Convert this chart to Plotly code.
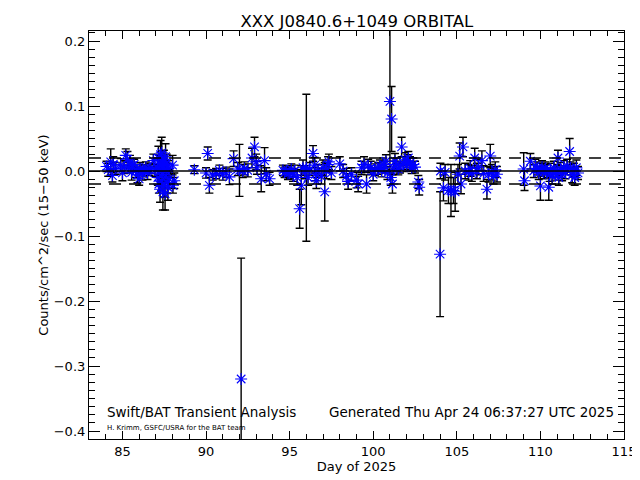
import plotly.graph_objects as go

# ---- data ----
days = [
    84.05, 84.15, 84.3, 84.4, 84.45, 84.6, 84.9, 85.0, 85.1, 85.2, 85.3, 85.35, 85.45, 85.55, 85.6,
    85.7, 85.8, 85.9, 86.0, 86.05, 86.1, 86.2, 86.3, 86.4, 86.5, 86.6, 86.7, 86.85, 86.95,
    87.1, 87.12, 87.15, 87.18, 87.2, 87.22, 87.25, 87.28, 87.3, 87.32, 87.35, 87.38, 87.4, 87.42,
    87.45, 87.48, 87.5, 87.52, 87.55, 87.58, 87.6, 87.62, 87.65, 87.68, 87.7, 87.72, 87.75, 87.78,
    88.0, 88.02, 88.1, 89.3,
    90.0, 90.1, 90.2, 90.4, 90.6, 90.8, 91.0, 91.2, 91.4, 91.65, 91.9, 92.0, 92.1, 92.2, 92.3, 92.5,
    92.75, 92.9, 93.0, 93.05, 93.3, 93.5, 93.6, 93.8,
    94.6, 94.7, 94.8, 94.9, 95.0, 95.1, 95.2, 95.3, 95.45, 95.6, 95.7, 95.8, 95.9, 96.0, 96.1, 96.2,
    96.4, 96.5, 96.55, 96.6, 96.7, 96.9, 97.0, 97.1, 97.2, 97.3, 97.35, 97.5,
    98.0, 98.2, 98.4, 98.5, 98.7, 99.0, 99.1, 99.3, 99.45, 99.6, 99.7, 99.85, 100.0, 100.1, 100.3,
    100.4, 100.5, 100.6, 100.7, 100.76, 100.85, 101.0, 101.05, 101.1, 101.15, 101.2, 101.3, 101.4,
    101.5, 101.6, 101.7, 101.8, 101.9, 102.0, 102.05, 102.1, 102.2, 102.3, 102.4, 102.5, 102.7, 102.75,
    104.0, 104.02, 104.2, 104.3, 104.5, 104.65, 104.8, 104.9, 105.07, 105.17, 105.25, 105.37, 105.5,
    105.7, 105.8, 105.9, 106.07, 106.2, 106.3, 106.5, 106.6, 106.8, 106.9, 107.0, 107.1, 107.2, 107.3, 107.4,
    109.0, 109.05, 109.4, 109.6, 109.7, 109.8, 109.9, 110.0, 110.05, 110.1, 110.2, 110.3, 110.4, 110.5,
    110.55, 110.6, 110.7, 110.8, 110.9, 111.0, 111.05, 111.1, 111.2, 111.3, 111.4, 111.5, 111.6, 111.75,
    111.8, 111.9, 112.0, 112.05, 112.15, 112.25,
]
rates = [
    0.007, 0.002, 0.014, -0.007, 0.010, 0.004, 0.009, -0.003, 0.006, 0.024, 0.018, 0.005, 0.014, -0.002, 0.008,
    0.010, 0.000, -0.006, -0.012, 0.004, 0.002, -0.004, 0.000, 0.006, -0.003, 0.002, 0.004, 0.016, 0.001,
    0.005, -0.010, 0.020, -0.020, 0.012, 0.000, -0.028, 0.025, 0.008, -0.015, 0.028, -0.005, 0.015, -0.032,
    0.003, 0.018, -0.022, 0.010, -0.035, 0.022, -0.008, 0.000, 0.012, -0.018, 0.006, -0.025, 0.004, -0.012,
    0.009, -0.022, -0.015, 0.002,
    -0.003, 0.027, -0.022, -0.006, -0.004, 0.001, -0.005, -0.002, -0.009, 0.019, 0.003, 0.001, -0.320, 0.000, 0.004, 0.001,
    0.020, 0.037, 0.014, 0.005, -0.012, 0.016, -0.005, -0.012,
    0.001, -0.002, 0.000, -0.004, -0.002, 0.003, -0.006, 0.000, -0.010, -0.058, -0.022, 0.005, -0.002, 0.005, -0.010, 0.003,
    0.027, 0.009, -0.005, -0.015, 0.000, -0.008, 0.005, -0.032, 0.000, 0.010, 0.014, -0.003,
    0.011, 0.000, -0.008, -0.016, -0.005, -0.014, -0.020, 0.005, 0.010, -0.020, 0.008, 0.005, -0.005, 0.002, 0.004,
    0.008, 0.000, 0.010, 0.006, 0.015, -0.003, 0.107, -0.010, 0.080, -0.020, 0.005, 0.015, 0.010,
    0.003, 0.006, 0.037, 0.012, 0.018, 0.008, 0.015, 0.020, 0.012, 0.005, 0.010, 0.006, -0.017, -0.025,
    -0.128, 0.000, -0.026, -0.002, -0.030, -0.030, -0.030, -0.032, -0.005, 0.023, -0.020, 0.037, 0.000,
    -0.002, 0.004, -0.004, 0.020, 0.000, 0.006, 0.016, -0.004, -0.028, -0.005, 0.023, -0.002, -0.008, 0.002, -0.005,
    0.003, -0.015, 0.015, 0.000, 0.008, 0.004, -0.003, -0.023, 0.002, 0.006, -0.002, 0.004, 0.000, -0.025,
    -0.006, 0.002, -0.008, 0.005, -0.004, 0.000, 0.020, -0.010, 0.003, -0.005, 0.006, -0.002, 0.008, 0.030,
    0.004, -0.006, 0.002, -0.010, 0.005, -0.003,
]
errors = [
    0.008, 0.010, 0.020, 0.010, 0.012, 0.009, 0.010, 0.012, 0.010, 0.010, 0.012, 0.008, 0.010, 0.012, 0.010,
    0.008, 0.010, 0.012, 0.010, 0.009, 0.008, 0.010, 0.009, 0.008, 0.010, 0.009, 0.008, 0.010, 0.009,
    0.015, 0.012, 0.018, 0.014, 0.012, 0.010, 0.020, 0.022, 0.012, 0.015, 0.024, 0.010, 0.016, 0.028,
    0.012, 0.014, 0.018, 0.012, 0.025, 0.020, 0.010, 0.012, 0.014, 0.016, 0.010, 0.020, 0.012, 0.014,
    0.015, 0.012, 0.012, 0.006,
    0.008, 0.010, 0.012, 0.008, 0.008, 0.008, 0.009, 0.008, 0.012, 0.012, 0.010, 0.040, 0.186, 0.010, 0.010, 0.010,
    0.015, 0.015, 0.012, 0.010, 0.020, 0.020, 0.010, 0.010,
    0.008, 0.008, 0.008, 0.009, 0.010, 0.008, 0.010, 0.009, 0.012, 0.030, 0.030, 0.012, 0.010, 0.113, 0.012, 0.010,
    0.012, 0.012, 0.010, 0.012, 0.010, 0.012, 0.012, 0.045, 0.012, 0.012, 0.012, 0.010,
    0.011, 0.010, 0.012, 0.012, 0.010, 0.012, 0.012, 0.010, 0.012, 0.014, 0.010, 0.010, 0.010, 0.009, 0.009,
    0.009, 0.009, 0.010, 0.009, 0.010, 0.010, 0.110, 0.012, 0.050, 0.014, 0.010, 0.012, 0.010,
    0.009, 0.009, 0.015, 0.010, 0.010, 0.009, 0.010, 0.010, 0.010, 0.009, 0.010, 0.009, 0.010, 0.012,
    0.096, 0.012, 0.020, 0.012, 0.020, 0.040, 0.020, 0.030, 0.015, 0.020, 0.015, 0.015, 0.012,
    0.012, 0.012, 0.012, 0.015, 0.012, 0.012, 0.015, 0.012, 0.015, 0.012, 0.018, 0.012, 0.012, 0.012, 0.012,
    0.025, 0.015, 0.012, 0.010, 0.010, 0.010, 0.010, 0.022, 0.010, 0.010, 0.010, 0.010, 0.010, 0.020,
    0.010, 0.010, 0.012, 0.010, 0.010, 0.010, 0.012, 0.012, 0.010, 0.010, 0.010, 0.010, 0.010, 0.020,
    0.010, 0.012, 0.010, 0.012, 0.012, 0.010,
]
threshold = 0.02
title_text = "XXX J0840.6+1049 ORBITAL"
x_label = "Day of 2025"
y_label = "Counts/cm^2/sec (15\u221250 keV)"

FONT = "DejaVu Sans"

fig = go.Figure()
fig.add_trace(go.Scatter(
    x=days, y=rates, mode="markers",
    marker=dict(symbol="asterisk-open", size=10, color="#0000ff",
                line=dict(color="#0000ff", width=1.1)),
    error_y=dict(type="data", array=errors, visible=True, color="black",
                 thickness=1.4, width=4),
    showlegend=False,
))

fig.add_shape(type="line", xref="paper", yref="y", x0=0, x1=1, y0=0, y1=0,
              line=dict(color="black", width=1.5))
for v in (threshold, -threshold):
    fig.add_shape(type="line", xref="paper", yref="y", x0=0, x1=1, y0=v, y1=v,
                  line=dict(color="black", width=1.5, dash="12px,8px"))

fig.add_annotation(text="Swift/BAT Transient Analysis", xref="paper", yref="paper",
                   x=0.03, y=0.066, xanchor="left", yanchor="middle", showarrow=False,
                   font=dict(family=FONT, size=13.5, color="black"))
fig.add_annotation(text="Generated Thu Apr 24 06:37:27 UTC 2025", xref="paper", yref="paper",
                   x=0.985, y=0.066, xanchor="right", yanchor="middle", showarrow=False,
                   font=dict(family=FONT, size=13.5, color="black"))
fig.add_annotation(text="H. Krimm, GSFC/USRA for the BAT team", xref="paper", yref="paper",
                   x=0.03, y=0.027, xanchor="left", yanchor="middle", showarrow=False,
                   font=dict(family=FONT, size=7, color="black"))

fig.update_layout(
    width=640, height=480,
    margin=dict(l=81, r=24, t=23, b=49),
    paper_bgcolor="white", plot_bgcolor="white",
    font=dict(family=FONT, size=13, color="black"),
    title=dict(text=title_text, x=0.545, xanchor="center", y=0.973, yanchor="middle",
               font=dict(family=FONT, size=16.5, color="black")),
    xaxis=dict(range=[83, 115], dtick=5, tick0=85, ticks="inside", ticklen=8,
               tickwidth=1, tickcolor="black", showgrid=False, zeroline=False,
               showline=True, linecolor="black", linewidth=1.2, mirror="allticks",
               minor=dict(dtick=1, ticks="inside", ticklen=4.5, tickcolor="black", showgrid=False),
               title=dict(text=x_label, standoff=4, font=dict(family=FONT, size=13)),
               tickfont=dict(family=FONT, size=13)),
    yaxis=dict(range=[-0.4123, 0.2154], dtick=0.1, tick0=0, tickformat=".1f",
               ticks="inside", ticklen=11, tickwidth=1, tickcolor="black",
               showgrid=False, zeroline=False, showline=True, linecolor="black",
               linewidth=1.2, mirror="allticks",
               minor=dict(dtick=0.0125, ticks="inside", ticklen=5.5, tickcolor="black", showgrid=False),
               title=dict(text=y_label, standoff=2, font=dict(family=FONT, size=13)),
               tickfont=dict(family=FONT, size=13)),
)

fig.write_html("out.html")
